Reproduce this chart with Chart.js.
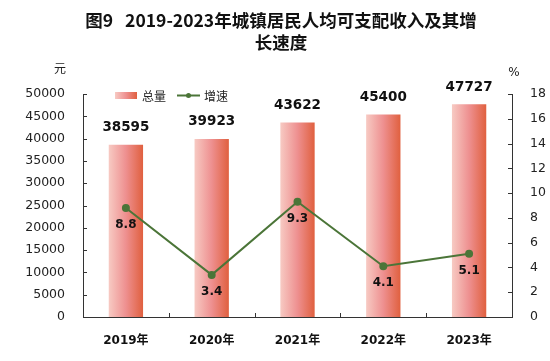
<!DOCTYPE html>
<html>
<head>
<meta charset="utf-8">
<script src="https://cdn.jsdelivr.net/npm/chart.js@4.4.1/dist/chart.umd.min.js"></script>
<style>
  body { margin: 0; background: #fff; }
  #wrap { width: 550px; height: 361px; }
</style>
</head>
<body>
<div id="wrap"><canvas id="incomeChart" width="550" height="361"></canvas></div>
<script>
const years = ['2019年', '2020年', '2021年', '2022年', '2023年'];
const totalIncome = [38595, 39923, 43622, 45400, 47727];
const growthRate = [8.8, 3.4, 9.3, 4.1, 5.1];
const incomeMax = 50000, incomeStep = 5000;
const rateMax = 18, rateStep = 2;

const titleLines = ['图9   2019-2023年城镇居民人均可支配收入及其增', '长速度'];
const lineColor = '#4b7538';
const axisColor = '#333';

function barGradient(ctx, x0, x1) {
    const g = ctx.createLinearGradient(x0, 0, x1, 0);
    g.addColorStop(0, '#f7cac3');
    g.addColorStop(0.5, '#ee9090');
    g.addColorStop(1, '#e0603f');
    return g;
}

function barColor(context) {
    const chart = context.chart;
    const xs = chart.scales.x;
    if (!xs || context.dataIndex === undefined) return '#ee9090';
    const cx = xs.getPixelForValue(context.dataIndex);
    const half = xs.width / years.length * 0.4 / 2;
    if (!isFinite(cx) || !isFinite(half) || half <= 0) return '#ee9090';
    return barGradient(chart.ctx, cx - half, cx + half);
}

// title, units, legend, inward tick marks, value labels
const decorations = {
    id: 'decorations',
    afterDraw(chart) {
        const ctx = chart.ctx;
        const area = chart.chartArea;
        ctx.save();
        ctx.fillStyle = '#111';
        ctx.textAlign = 'center';
        ctx.textBaseline = 'middle';
        ctx.font = '600 17.5px "Noto Sans CJK SC"';
        ctx.fillText(titleLines[0], 281, 20);
        ctx.fillText(titleLines[1], 281, 42);

        ctx.font = '12px "Noto Sans CJK SC"';
        ctx.fillStyle = '#222';
        ctx.fillText('元', 60, 68);
        ctx.font = '12px "DejaVu Sans"';
        ctx.fillText('%', 514, 73);

        // legend
        ctx.fillStyle = barGradient(ctx, 115, 137);
        ctx.fillRect(115, 92, 22, 7);
        ctx.fillStyle = '#222';
        ctx.textAlign = 'left';
        ctx.font = '12px "Noto Sans CJK SC"';
        ctx.fillText('总量', 142, 96);
        ctx.strokeStyle = lineColor;
        ctx.lineWidth = 2;
        ctx.beginPath();
        ctx.moveTo(177, 95.5);
        ctx.lineTo(200, 95.5);
        ctx.stroke();
        ctx.fillStyle = lineColor;
        ctx.beginPath();
        ctx.arc(188.5, 95.5, 2.5, 0, Math.PI * 2);
        ctx.fill();
        ctx.fillStyle = '#222';
        ctx.fillText('增速', 204, 96);

        // inward tick marks
        ctx.strokeStyle = axisColor;
        ctx.lineWidth = 1;
        ctx.beginPath();
        chart.scales.y.ticks.forEach(t => {
            const y = Math.round(chart.scales.y.getPixelForValue(t.value)) + 0.5;
            ctx.moveTo(area.left, y);
            ctx.lineTo(area.left + 4, y);
        });
        chart.scales.y1.ticks.forEach(t => {
            const y = Math.round(chart.scales.y1.getPixelForValue(t.value)) + 0.5;
            ctx.moveTo(area.right, y);
            ctx.lineTo(area.right - 4, y);
        });
        const xs = chart.scales.x;
        for (let i = 1; i < years.length; i++) {
            const x = Math.round((xs.getPixelForValue(i - 1) + xs.getPixelForValue(i)) / 2) + 0.5;
            ctx.moveTo(x, area.bottom);
            ctx.lineTo(x, area.bottom - 4);
        }
        ctx.stroke();

        // value labels
        ctx.textAlign = 'center';
        ctx.fillStyle = '#111';
        ctx.font = 'bold 13.5px "DejaVu Sans"';
        chart.getDatasetMeta(0).data.forEach((bar, i) => {
            ctx.fillText(String(totalIncome[i]), bar.x, bar.y - 17);
        });
        ctx.font = 'bold 12px "DejaVu Sans"';
        chart.getDatasetMeta(1).data.forEach((pt, i) => {
            ctx.fillText(growthRate[i].toFixed(1), pt.x, pt.y + 17);
        });
        ctx.restore();
    }
};

const tickFont = { family: '"DejaVu Sans"', size: 12.5 };
const plainTick = v => String(v);

new Chart(document.getElementById('incomeChart').getContext('2d'), {
    data: {
        labels: years,
        datasets: [{
            type: 'bar',
            label: '总量',
            data: totalIncome,
            yAxisID: 'y',
            backgroundColor: barColor,
            borderWidth: 0,
            barPercentage: 0.4,
            categoryPercentage: 1,
            order: 2
        }, {
            type: 'line',
            label: '增速',
            data: growthRate,
            yAxisID: 'y1',
            borderColor: lineColor,
            backgroundColor: lineColor,
            borderWidth: 2,
            pointRadius: 3,
            pointStyle: 'circle',
            tension: 0,
            order: 1
        }]
    },
    options: {
        responsive: false,
        animation: false,
        layout: { padding: { top: 94, left: 0, right: 0, bottom: 0 } },
        plugins: {
            legend: { display: false },
            title: { display: false },
            tooltip: { enabled: false }
        },
        scales: {
            x: {
                grid: { display: false },
                border: { color: axisColor },
                ticks: {
                    color: '#111',
                    font: { family: '"DejaVu Sans", "Noto Sans CJK SC"', size: 12, weight: 'bold' },
                    padding: 9
                },
                afterFit: s => { s.height = 44; }
            },
            y: {
                position: 'left',
                min: 0,
                max: incomeMax,
                grid: { display: false },
                border: { color: axisColor },
                ticks: { stepSize: incomeStep, color: '#222', font: tickFont, padding: 10, callback: plainTick },
                afterFit: s => { s.width = 83; }
            },
            y1: {
                position: 'right',
                min: 0,
                max: rateMax,
                grid: { display: false },
                border: { color: axisColor },
                ticks: { stepSize: rateStep, color: '#222', font: tickFont, padding: 10, callback: plainTick },
                afterFit: s => { s.width = 38; }
            }
        }
    },
    plugins: [decorations]
});
</script>
</body>
</html>
